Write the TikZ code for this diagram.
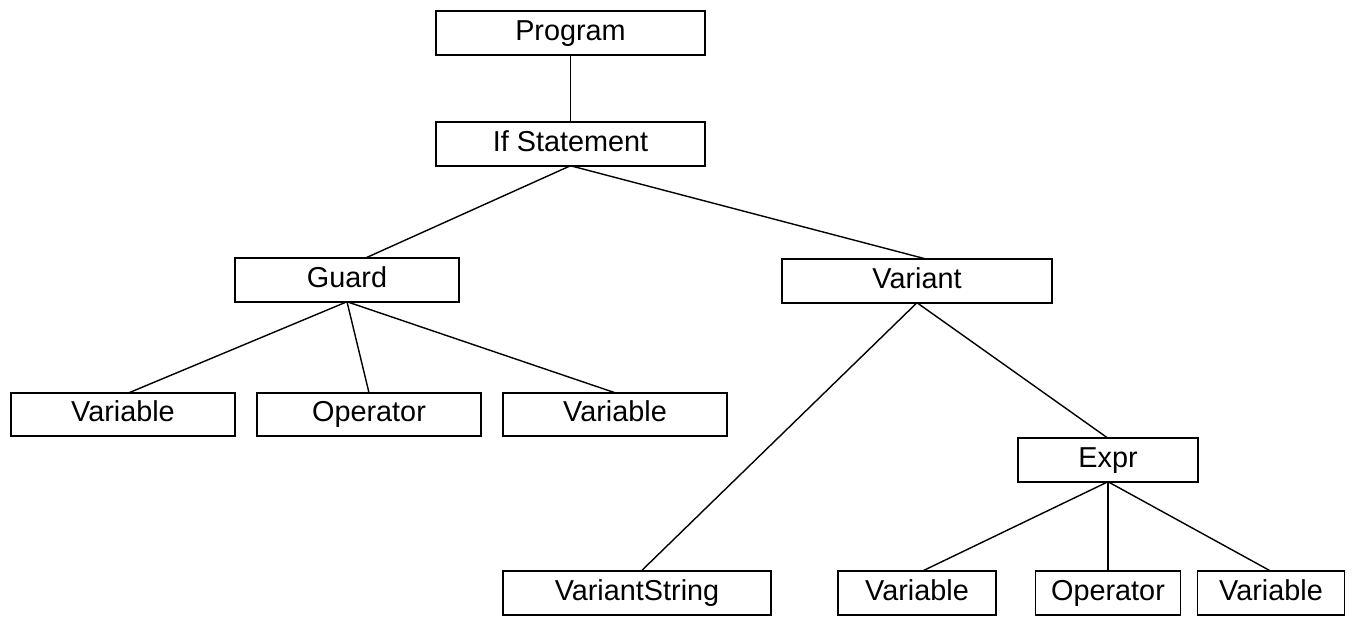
\documentclass[tikz,border=0pt]{standalone}
\usepackage{fontspec}
\setmainfont{Liberation Sans}
\usepackage{tikz}
\usetikzlibrary{positioning}

\begin{document}
\begin{tikzpicture}[
    x=0.02cm, y=-0.02cm,
    font=\fontsize{16.4}{19}\selectfont,
    box/.style={draw, line width=0.9pt, minimum height=0.87cm, text height=0.9em, text depth=0.1em, inner sep=2pt, outer sep=0pt},
    edge/.style={line width=0.8pt}
]
\useasboundingbox (0,0) rectangle (1357,617);

% top of the tree
\node[box, minimum width=5.38cm] (prog)    at (570.5, 33)  {Program};
\node[box, minimum width=5.38cm] (ifst)    at (570.5, 144) {If Statement};
\node[box, minimum width=4.48cm] (guard)   at (347, 280)   {Guard};
\node[box, minimum width=5.40cm] (variant) at (917, 281)   {Variant};

% guard children
\node[box, minimum width=4.48cm] (var1) at (123, 414.5) {Variable};
\node[box, minimum width=4.48cm] (op1)  at (369, 414.5) {Operator};
\node[box, minimum width=4.48cm] (var2) at (615, 414.5) {Variable};

% variant children
\node[box, minimum width=3.60cm] (expr) at (1108, 460) {Expr};
\node[box, minimum width=5.36cm] (vstr) at (637, 593)  {VariantString};
\node[box, minimum width=3.16cm] (var3) at (917, 593)  {Variable};
\node[box, minimum width=2.90cm] (op2)  at (1108, 593) {Operator};
\node[box, minimum width=2.94cm] (var4) at (1271, 593) {Variable};

% edges
\draw[edge] (prog.south) -- (ifst.north);
\draw[edge] (ifst.south) -- ([xshift=3.6mm]guard.north);
\draw[edge] (ifst.south) -- ([xshift=2mm]variant.north);
\draw[edge] (guard.south) -- ([xshift=1.2mm]var1.north);
\foreach \n in {op1, var2} {
    \draw[edge] (guard.south) -- (\n.north);
}
\draw[edge] (variant.south) -- ([xshift=0.8mm]vstr.north);
\draw[edge] (variant.south) -- (expr.north);
\draw[edge] (expr.south) -- ([xshift=1mm]var3.north);
\foreach \n in {op2, var4} {
    \draw[edge] (expr.south) -- (\n.north);
}
\end{tikzpicture}
\end{document}
